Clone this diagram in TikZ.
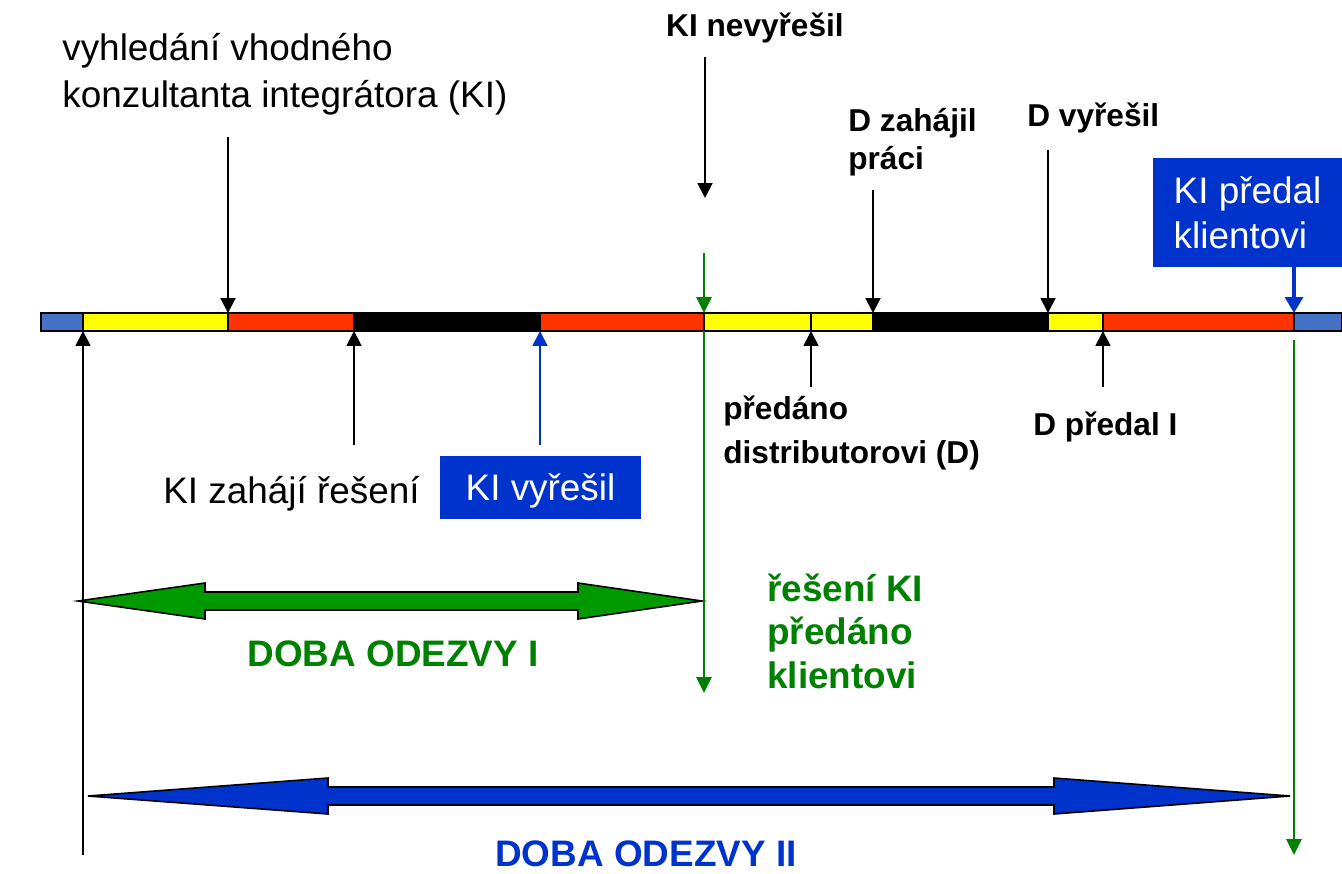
\documentclass[tikz,border=0pt]{standalone}
\usepackage{fontspec}
\setmainfont{Liberation Sans}
\usetikzlibrary{arrows.meta}
\definecolor{barblue}{RGB}{68,114,196}
\definecolor{baryellow}{RGB}{255,255,0}
\definecolor{barred}{RGB}{255,51,0}
\definecolor{boxblue}{RGB}{0,51,204}
\definecolor{okgreen}{RGB}{0,128,0}
\definecolor{fillgreen}{RGB}{0,153,0}
\begin{document}
\begin{tikzpicture}[x=0.02cm,y=-0.02cm,
  txt/.style={inner sep=0pt, font=\fontsize{21}{26.2}\selectfont, align=left},
  btxt/.style={inner sep=0pt, font=\fontsize{18}{22}\selectfont\bfseries, align=left},
  gtxt/.style={inner sep=0pt, font=\fontsize{21}{24.7}\selectfont\bfseries, text=okgreen, align=left},
  bluebox/.style={fill=boxblue, text=white, inner sep=0pt, font=\fontsize{21}{25.6}\selectfont, align=left},
  ptr/.style={line width=1.1pt, -{Triangle[width=8.5pt,length=8.5pt]}},
  bptr/.style={ptr, draw=boxblue},
  gptr/.style={line width=1.4pt, draw=okgreen, -{Triangle[width=8.5pt,length=9pt]}},
  seg/.style={draw=black, line width=0.6pt},
  dbl/.style={draw=black, line width=0.9pt, line join=miter}
]
\useasboundingbox (0,0) rectangle (1342,873);

% time line bar, segment by segment
\foreach \a/\b/\c in {41/83/barblue, 83/228/baryellow, 228/354/barred,
    354/540/black, 540/704/barred, 704/811/baryellow, 811/873/baryellow,
    873/1048/black, 1048/1103/baryellow, 1103/1294/barred, 1294/1342/barblue}
  \filldraw[seg, fill=\c] (\a,313) rectangle (\b,331);
\draw[line width=1.2pt] (1342,313) -- (41,313) -- (41,331) -- (1342,331);

% points on the bar
\coordinate (t228) at (228,313);
\coordinate (t704) at (704,313);
\coordinate (t873) at (873,313);
\coordinate (t1048) at (1048,313);
\coordinate (t1294) at (1294,313);
\coordinate (u83) at (83,331);
\coordinate (u354) at (354,331);
\coordinate (u540) at (540,331);
\coordinate (u704) at (704,331);
\coordinate (u811) at (811,331);
\coordinate (u1103) at (1103,331);
\coordinate (u1294) at (1294,340);

% free ends of the pointers
\coordinate (s228) at (228,137);
\coordinate (s705) at (705,57);
\coordinate (e705) at (705,198);
\coordinate (s704) at (704,253);
\coordinate (s873) at (873,190);
\coordinate (s1048) at (1048,150);
\coordinate (s83) at (83,855);
\coordinate (s354) at (354,445);
\coordinate (s540) at (540,445);
\coordinate (s811) at (811,387);
\coordinate (s1103) at (1103,387);
\coordinate (e704) at (704,693);
\coordinate (e1294) at (1294,855);

% response-time double arrows
\filldraw[dbl, fill=fillgreen] (78,601) -- (205,583) -- (205,592) -- (578,592) -- (578,583)
  -- (702,601) -- (578,619) -- (578,610) -- (205,610) -- (205,619) -- cycle;
\filldraw[dbl, fill=boxblue] (88,796) -- (328,778) -- (328,787) -- (1054,787) -- (1054,778)
  -- (1290,796) -- (1054,814) -- (1054,805) -- (328,805) -- (328,814) -- cycle;

% labels (multi-line ones are placed by the baseline of their last line)
\node[txt, anchor=base west] (hledani) at (62,107) {vyhledání vhodného\\konzultanta integrátora (KI)};
\node[btxt, anchor=base] (nevyresil) at (755,36) {KI nevyřešil};
\node[btxt, anchor=base west, font=\fontsize{18}{21.6}\selectfont\bfseries] (zahajil) at (848,169) {D zahájil\\práci};
\node[btxt, anchor=base west] (dvyresil) at (1027,126) {D vyřešil};
\node[bluebox, minimum width=3.78cm, minimum height=2.18cm] (predal) at (1247.5,212.5) {KI předal\\klientovi};
\node[txt, anchor=base west] (zahaji) at (163,503) {KI zahájí řešení};
\node[bluebox, minimum width=4.02cm, minimum height=1.26cm, text depth=0pt] (vyresil) at (540.5,487.5) {KI vyřešil};
\node[btxt, anchor=base west, font=\fontsize{18}{24.5}\selectfont\bfseries] (distrib) at (723,463) {předáno\\distributorovi (D)};
\node[btxt, anchor=base west] (dpredal) at (1033,435) {D předal I};
\node[gtxt, anchor=base west] (klient) at (767,688) {řešení KI\\předáno\\klientovi};
\node[gtxt, anchor=base] (odezva1) at (393,666) {DOBA ODEZVY I};
\node[gtxt, anchor=base, text=boxblue] (odezva2) at (646,866) {DOBA ODEZVY II};

% pointers onto the bar
\draw[ptr] (s228) -- (t228);
\draw[ptr] (s705) -- (e705);
\draw[ptr] (s873) -- (t873);
\draw[ptr] (s1048) -- (t1048);
\draw[ptr] (s83) -- (u83);
\draw[ptr] (s354) -- (u354);
\draw[ptr] (s811) -- (u811);
\draw[ptr] (s1103) -- (u1103);
\draw[bptr] (s540) -- (u540);
\draw[line width=2.3pt, draw=boxblue, -{Triangle[width=10pt,length=9pt]}] (predal.south -| t1294) -- (t1294);
\draw[gptr] (s704) -- (t704);
\draw[gptr] (u704) -- (e704);
\draw[gptr] (u1294) -- (e1294);
\end{tikzpicture}
\end{document}
